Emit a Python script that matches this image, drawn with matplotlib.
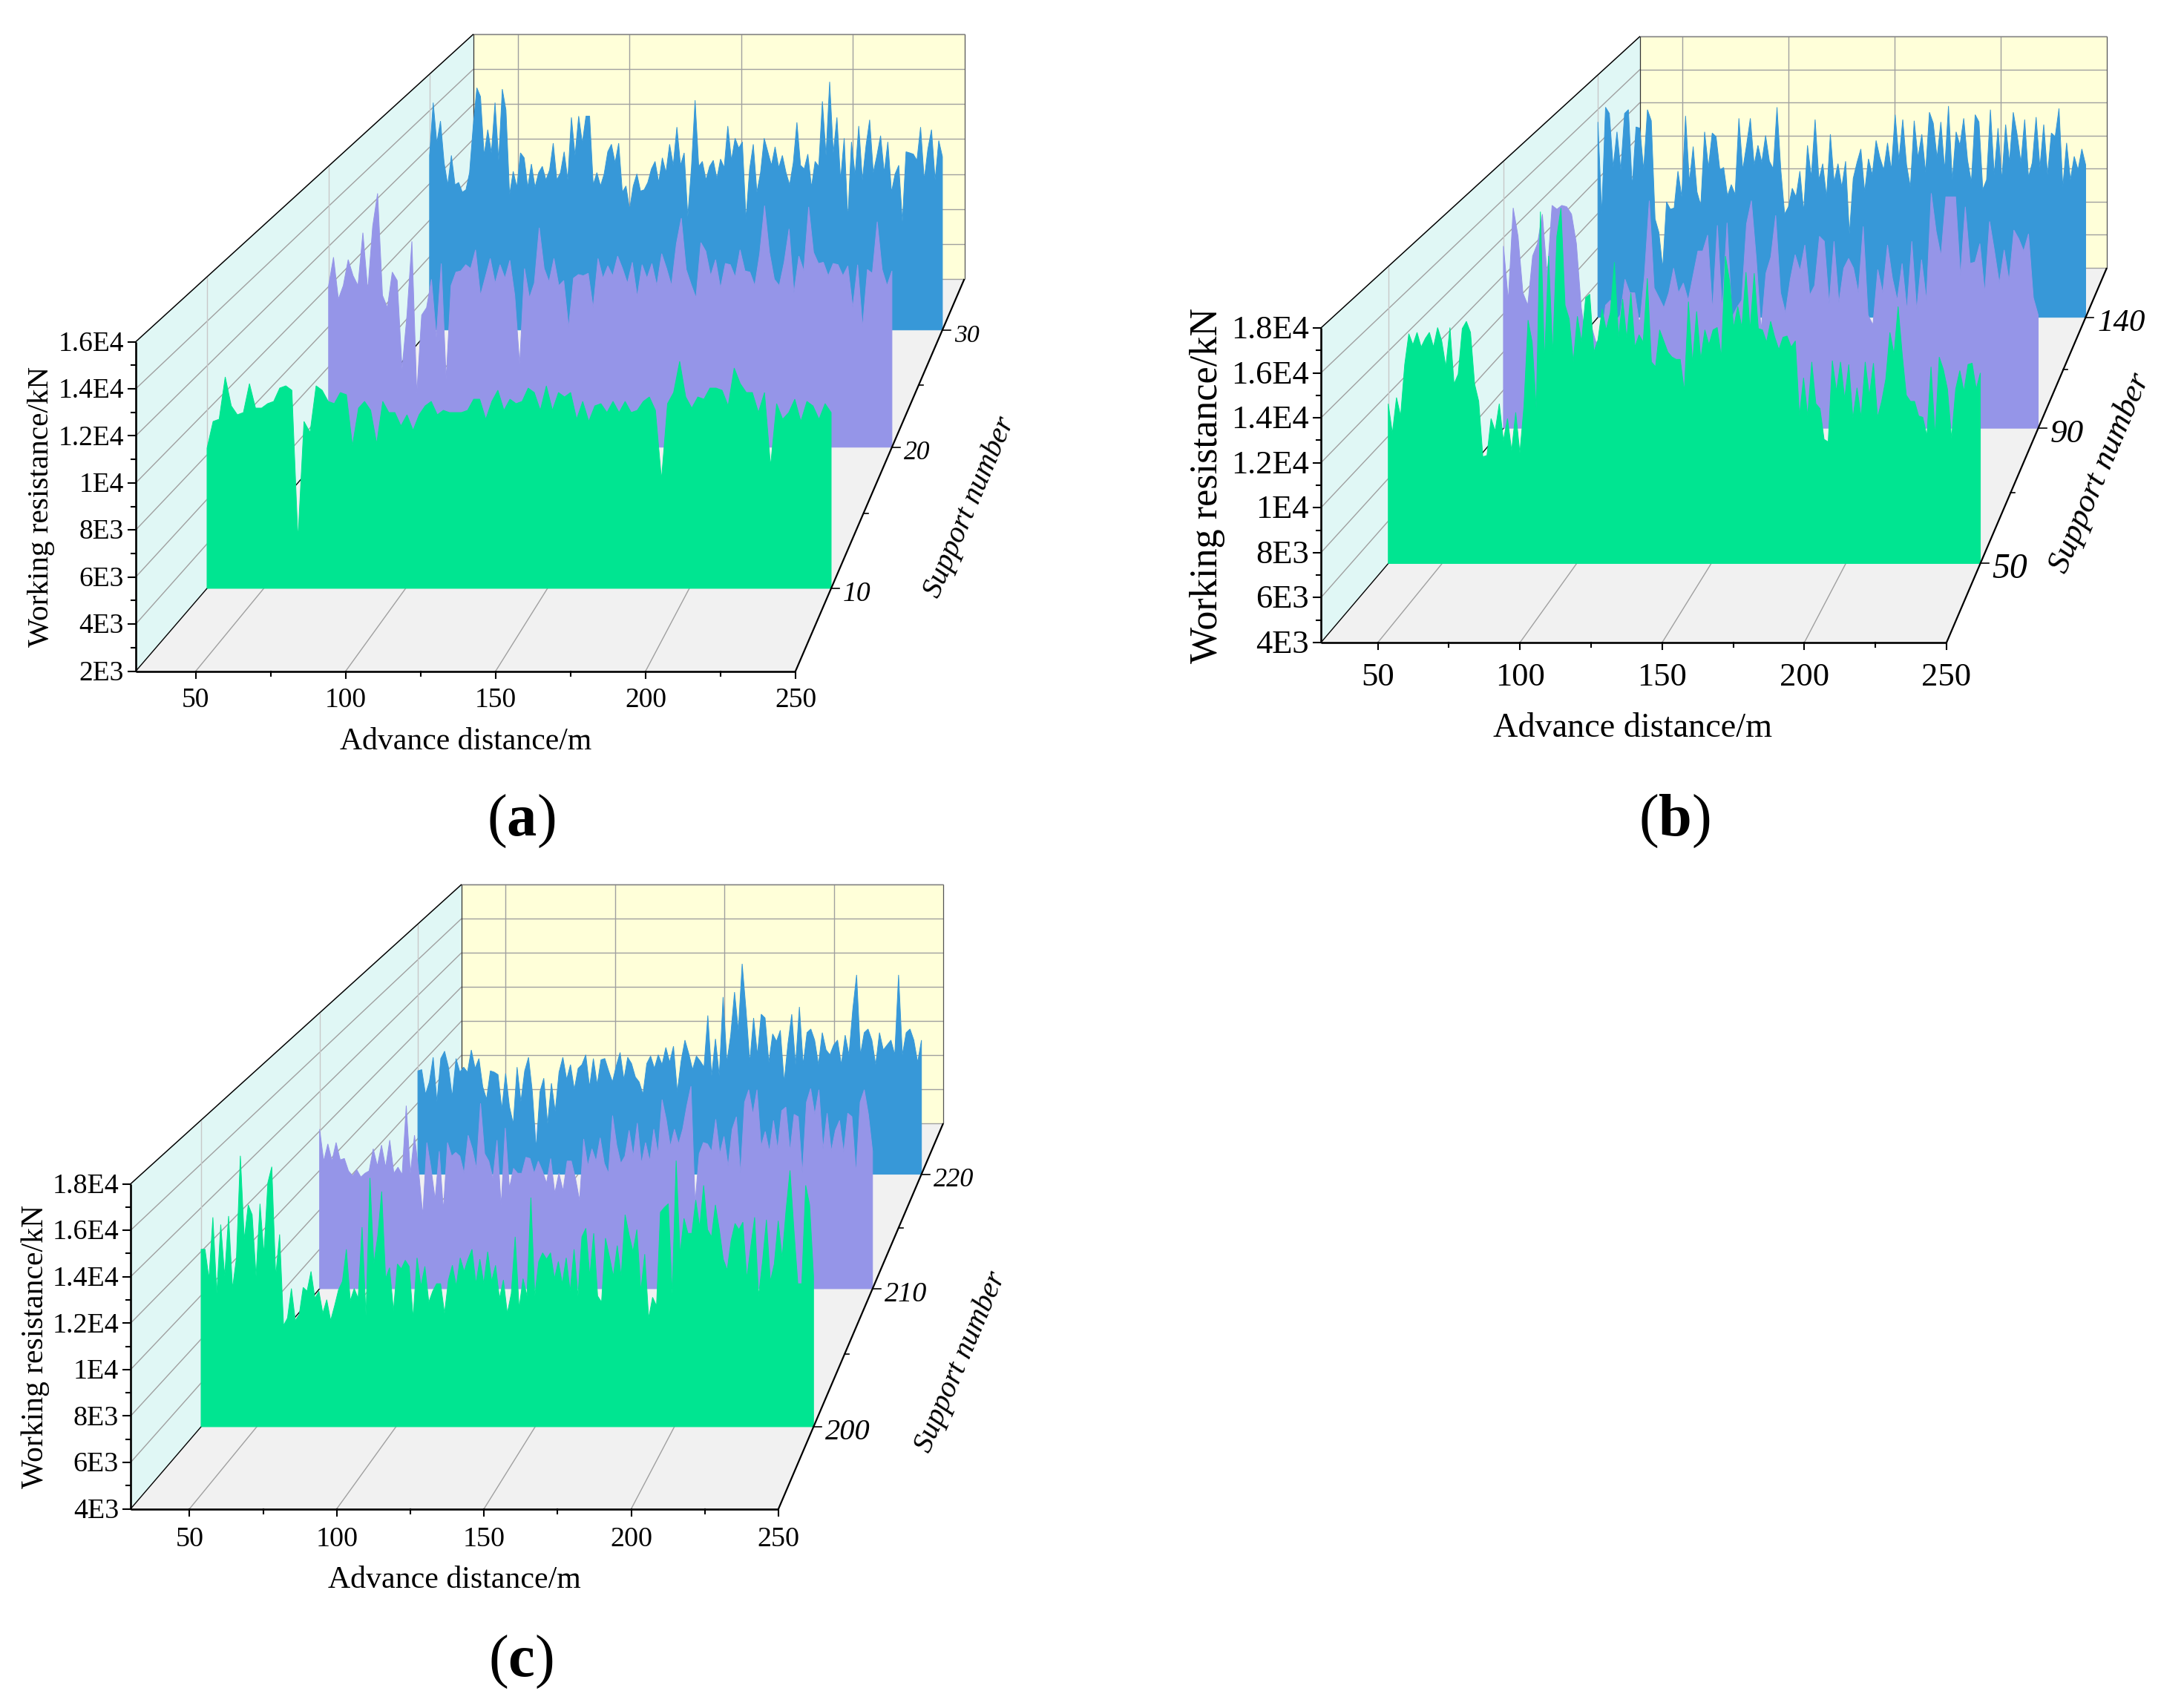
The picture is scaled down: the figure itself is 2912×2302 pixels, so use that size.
import numpy as np
import matplotlib
matplotlib.use('Agg')
import matplotlib.pyplot as plt

plt.rcParams['font.family'] = ['Liberation Serif', 'DejaVu Serif']
plt.rcParams['mathtext.fontset'] = 'custom'
plt.rcParams['mathtext.rm'] = 'Liberation Serif'
plt.rcParams['mathtext.bf'] = 'Liberation Serif:bold'

# working resistance in kN, read along each support from x=30 to x=250
a_green = [8300,9500,9600,11500,10200,9800,9900,11200,10100,10100,10300,10400,11000,11100,10900,4200,9500,9000,11100,10900,
           10400,10300,10800,10700,8400,10100,10400,10000,8500,10400,9900,9900,9300,9800,9100,9800,10200,10400,9800,10000,
           9900,9900,9900,10000,10500,10500,9600,10400,10900,10000,10500,10300,10400,11000,10800,10000,11100,10000,10800,10600,
           10800,9600,10400,9500,10200,10300,9900,10400,9900,10400,9900,10000,10400,10600,10000,6900,10300,10800,12200,10600,
           10100,10600,10500,11000,11000,10900,10200,11900,11200,10800,10800,9900,10800,7500,10300,9600,9900,10500,9500,10400,
           10200,9600,10300,9900]
a_purple = [10050,11460,9380,10050,11340,10540,10050,12680,9800,13000,14640,9560,8950,10720,10300,5900,8580,12250,4670,8580,
            8950,10360,7480,11150,5400,10050,10720,10780,11090,10900,11830,9560,10480,11400,10170,11090,10420,11310,9560,6140,
            10900,9440,10170,12930,10900,10240,11400,10050,10300,7970,10420,10600,
            10540,10660,8950,11400,10420,11030,10540,11520,10900,10170,11210,9500,11090,10420,11150,10050,11640,10900,10050,12130,
            13410,10850,10110,9440,12190,11760,10540,11340,9930,11150,11090,10480,11830,10780,10720,10050,11640,14030,11700,10360,
            10050,11210,12870,9680,11520,10780,13970,11700,11150,11210,10540,11150,11090,10540,11030,8950,11090,7970,10850,10660,
            13230,10850,10050,10780]
a_blue = [11550,14440,12220,13430,11150,9940,11550,9940,10070,9540,9670,10610,13160,15250,14770,11550,12960,11690,14440,11280,
          15180,14040,9400,10680,9810,11690,11420,9810,11080,9810,10610,10950,10210,10750,12220,10210,10610,11750,10210,13630,
          11550,13700,12220,13700,13700,9940,10610,9880,10540,11750,12160,11150,12220,9540,9880,8600,9880,10540,9600,9670,
          10070,10810,11220,10070,11420,10610,12160,11010,13100,11010,11690,8200,10880,14570,10950,11220,10210,10950,11280,10280,
          11350,10880,13160,11280,12490,11950,12290,8060,10810,12160,9540,10610,12490,11750,11010,12020,10880,11550,10610,9940,
          11150,13360,11010,10810,11620,9810,11220,10950,14510,11550,15580,11690,13630,10210,12490,8060,12290,10480,13160,10210,
          12090,13500,10610,11550,12630,10610,12290,9540,10540,11010,7930,11750,11690,11620,11280,13100,10210,11890,12960,10210,
          12360,11480]

b_green = [11530,10140,11820,10950,13380,14830,14310,14890,14200,14600,14890,14200,15120,14490,13270,15120,12460,12920,15070,15410,
           14890,12460,11640,9030,9090,10830,10250,11530,9790,10830,9320,11120,9210,11410,15470,14430,11300,20580,13500,18490,
           13850,19420,20750,16170,15530,13500,15650,14430,16520,16690,13960,14540,15990,15010,15820,18200,14660,16460,14600,16750,
           14200,14780,14430,17440,13500,13270,15010,14490,13960,13730,13620,13620,12110,16340,13440,15880,13620,15010,14310,15010,
           15120,13730,18490,17330,15120,16110,15120,17730,15010,
           17680,15070,15010,14430,15410,14660,14080,14660,14720,14200,14490,10950,12750,10950,13500,11530,11300,9850,9730,13560,
           12110,13500,11760,13380,10830,12280,10890,13500,11880,13440,10890,11640,12690,14890,13850,16110,13850,11930,11640,11640,
           10950,10890,10020,13270,10020,13730,13150,12220,9900,12220,13090,12110,13380,13440,12220,12980]
b_purple = [13550,10710,15550,14060,11100,10450,13030,13680,15220,12000,15680,15480,15680,15610,15220,13680,10320,8520,9420,8520,
            8520,10450,10710,9550,9930,11810,11100,11100,9420,12000,15930,11350,10840,10320,11100,12390,11100,11610,10710,12000,
            13290,13290,14130,10190,14640,10190,14770,9810,10320,10710,14710,15930,12900,9160,
            12130,12970,15160,11100,10060,11810,13100,12260,13610,10970,11480,14060,13800,10520,13800,10580,12390,12900,12390,11100,
            14580,9930,9420,12320,11100,13610,11870,10710,12640,10190,13800,10190,12840,10710,16320,14320,13030,16130,16130,16130,
            12000,15610,12640,12710,13680,11100,14840,13290,11610,13350,11740,14390,13930,13290,14190,10840,9930]
b_blue = [15280,9960,16130,15770,12650,14710,12510,15770,15990,11520,14990,14920,12510,15990,15350,9680,8900,6840,10670,10240,
          10310,12440,10950,15630,11800,13860,11240,10460,14710,12650,14640,14430,12510,12650,11020,11660,11090,15490,12510,13930,
          15490,12800,13930,12940,14500,13010,12580,16130,12510,9960,10380,11450,10950,12440,10100,13930,12090,15420,11940,12870,
          10950,14570,11800,12870,11520,13010,8820,12020,12940,13720,11240,13150,12230,14210,13220,12510,14070,12510,15700,13080,
          15420,12800,11520,15350,13220,14570,12370,15840,15210,13220,15280,12510,16200,11940,14710,13930,15490,13080,11800,15700,
          15280,11380,11940,15990,12230,14920,11940,15130,12940,15840,14570,12940,15420,12090,12940,15560,12650,15130,12230,14640,
          14430,16060,11520,14070,11940,13290,12510,13720,12800]

c_green = [12100,12100,10760,13560,10080,13230,10870,13620,10310,11710,16370,12550,14130,13680,10870,14180,11880,15140,15870,10870,
           12780,8620,8960,10310,8850,9130,10360,10190,11090,9860,10190,9180,9800,8850,9520,10250,10640,12100,9750,10310,
           9860,13110,9070,15360,11430,12720,14740,10760,11260,9300,11430,11210,11600,11320,8960,11710,10420,11320,9690,10190,
           10530,10530,9180,10700,11370,10420,11710,11090,11650,12100,10530,11650,10530,11990,10640,11370,9860,10700,9180,10080,
           12670,9410,10760,9970,14460,9970,11540,11940,11650,11940,10760,11540,10530,11710,10190,12100,
           9970,12670,13060,10870,12830,9970,9690,12610,11770,10870,12270,10870,13680,12780,11990,13000,10190,11880,8960,9910,
           9520,13790,14010,14180,10080,16150,11880,13510,12830,12830,14350,13110,15020,13000,12670,14130,13000,11650,11150,12500,
           13280,13000,13340,10760,12220,13560,9970,11540,13450,10640,11430,13400,11710,13900,15700,13000,10530,10530,15020,14130,
           10870]
c_purple = [12100,10480,11350,10480,11420,10540,10610,9980,9730,10040,9670,9860,9980,11100,10230,11290,10170,11540,9860,10170,
            9790,13290,9860,11790,9980,7740,11420,10110,8550,10980,7990,11420,10730,10920,10730,9860,11790,11100,10110,13410,
            10850,10480,9610,11540,8240,12160,9110,10110,9860,9860,10670,10610,9860,10480,9980,9360,10610,8860,9860,
            8980,10480,10480,9610,8490,11600,10230,11100,10480,11660,10360,9860,12790,11290,10360,10730,12040,10730,12410,10360,
            11420,10480,12100,10850,13600,12600,11230,12100,11350,12100,13290,14280,8360,10850,11420,11350,10980,12600,10850,11730,
            10230,12100,12730,9860,13470,14100,12850,14100,11230,11980,10980,12540,11100,13040,13220,10980,12850,12730,9860,13470,
            14160,12850,14100,11100,12910,10980,12040,12540,10920,12910,12730,9860,13470,14100,12850,10980]
c_blue = [9780,9850,8470,9160,10540,8060,10470,10880,9990,8340,10470,9710,9990,9710,10950,9920,10470,8890,8200,9780,
          9710,9570,7650,9640,7780,6820,9990,8060,9780,10540,8610,5440,8610,9370,6820,9090,7510,9710,10540,9300,
          10130,8750,9920,10130,10680,8890,10470,9020,10400,10470,9780,9160,10060,10810,9300,10540,10190,9440,9160,8470,
          10190,10610,9920,10680,10130,11090,10260,11160,8610,10330,11500,10750,9850,10610,10330,9990,12880,9510,11570,9510,
          13910,10260,11780,14190,12050,15770,13220,10260,12740,10680,12950,12740,10260,11850,11430,12050,9160,11300,12950,10130,
          13360,10130,11920,12120,11500,10130,11920,10950,10680,11230,11500,10130,11780,10680,13220,15150,10680,11920,12120,11500,
          10130,11920,10950,11230,11500,10680,15150,10680,11920,12120,11500,10260,11500]

# support numbers on the depth axis and where they sit between front (0) and back (1)
a_supports = [10, 15, 20, 25, 30]
a_depth = [0.211, 0.403, 0.571, 0.729, 0.870]
b_supports = [50, 70, 90, 115, 140]
b_depth = [0.211, 0.400, 0.572, 0.728, 0.868]
c_supports = [200, 205, 210, 215, 220]
c_depth = [0.213, 0.402, 0.571, 0.729, 0.868]

a_z_labels = ['2E3', '4E3', '6E3', '8E3', '1E4', '1.2E4', '1.4E4', '1.6E4']
b_z_labels = ['4E3', '6E3', '8E3', '1E4', '1.2E4', '1.4E4', '1.6E4', '1.8E4']
c_z_labels = ['4E3', '6E3', '8E3', '1E4', '1.2E4', '1.4E4', '1.6E4', '1.8E4']
x_ticks = [50, 100, 150, 200, 250]
x_minor = [75, 125, 175, 225]

GREEN = '#00E591'
PURPLE = '#9595E8'
BLUE = '#3798D8'

fig = plt.figure(figsize=(29.12, 23.02), dpi=100)
ax = fig.add_axes([0, 0, 1, 1])
ax.set_xlim(0, 2912)
ax.set_ylim(2302, 0)
ax.axis('off')


def draw_panel(g, z_min, z_labels, supports, depth, series, fs):
    z_max = z_min + 2000 * (len(z_labels) - 1)

    # perspective box: everything shrinks linearly towards the back
    def proj(x, t, z):
        x = np.asarray(x, dtype=float)
        t = np.asarray(t, dtype=float)
        z = np.asarray(z, dtype=float)
        left = g['ox'] + (g['bx'] - g['ox']) * t
        right = g['rx'] + (g['brx'] - g['rx']) * t
        base = g['oy'] + (g['by'] - g['oy']) * t
        height = g['h'] + (g['bh'] - g['h']) * t
        return left + (x - 30) / 220 * (right - left), base - (z - z_min) / (z_max - z_min) * height

    def line(x, t, z, **kw):
        px, py = proj(x, t, z)
        ax.plot(px, py, solid_capstyle='butt', **kw)

    def face(x, t, z, color):
        px, py = proj(x, t, z)
        ax.fill(px, py, color=color, lw=0)

    face([30, 30, 30, 30], [0, 1, 1, 0], [z_min, z_min, z_max, z_max], '#E0F7F5')
    face([30, 250, 250, 30], [1, 1, 1, 1], [z_min, z_min, z_max, z_max], '#FFFFD9')
    face([30, 250, 250, 30], [0, 0, 1, 1], [z_min, z_min, z_min, z_min], '#F1F1F1')

    grid = dict(color='#A0A0A0', lw=1.0)
    z_ticks = np.arange(z_min, z_max + 1, 2000)
    for z in z_ticks[1:]:
        line([30, 30], [0, 1], [z, z], **grid)
        line([30, 250], [1, 1], [z, z], **grid)
    for t in depth[::2]:
        line([30, 30], [t, t], [z_min, z_max], color='#C8C8C8', lw=1.0)
    for x in x_ticks[:-1]:
        line([x, x], [1, 1], [z_min, z_max], **grid)
        line([x, x], [0, 1], [z_min, z_min], **grid)
    line([250, 250], [1, 1], [z_min, z_max], color='#555555', lw=0.9)
    line([30, 250], [1, 1], [z_min, z_min], color='#A0A0A0', lw=1.0)
    line([30, 250], [1, 1], [z_max, z_max], color='#808080', lw=1.0)
    line([30, 30], [1, 1], [z_min, z_max], color='#333333', lw=0.9)
    line([30, 30], [0, 1], [z_max, z_max], color='black', lw=1.0)
    line([30, 30], [0, 1], [z_min, z_min], color='black', lw=1.0)

    # back to front
    for values, sup, color in series:
        t = np.interp(sup, supports, depth)
        x = np.linspace(30, 250, len(values))
        px = np.r_[30, x, 250]
        pz = np.r_[z_min, values, z_min]
        sx, sy = proj(px, t, pz)
        ax.fill(sx, sy, facecolor=color, edgecolor=color, lw=0.7, zorder=3)

    # axes lines
    axis = dict(color='black', lw=1.9, zorder=4)
    line([30, 30], [0, 0], [z_min, z_max], **axis)
    line([30, 250], [0, 0], [z_min, z_min], **axis)
    line([250, 250], [0, 1], [z_min, z_min], color='black', lw=1.6, zorder=4)

    for z, lab in zip(z_ticks, z_labels):
        px, py = proj(30, 0, z)
        ax.plot([px - 10, px], [py, py], color='black', lw=1.5)
        ax.text(px - 16, py + 3, lab, ha='right', va='center', fontsize=fs['tick'])
    for z in z_ticks[:-1] + 1000:
        px, py = proj(30, 0, z)
        ax.plot([px - 6, px], [py, py], color='black', lw=1.5)
    for x in x_ticks:
        px, py = proj(x, 0, z_min)
        ax.plot([px, px], [py, py + 9], color='black', lw=1.5)
        ax.text(px, py + g['xtick_dy'], str(x), ha='center', va='center', fontsize=fs['tick'])
    for x in x_minor:
        px, py = proj(x, 0, z_min)
        ax.plot([px, px], [py, py + 6], color='black', lw=1.5)
    for i, (sup, t) in enumerate(zip(supports, depth)):
        px, py = proj(250, t, z_min)
        if i % 2 == 0:
            ax.plot([px, px + 11], [py, py], color='black', lw=1.2, zorder=4)
            # labels further back are drawn smaller in the original
            ax.text(px + 16, py + 8, str(sup), ha='left', va='center',
                    fontsize=fs['sup'] * (1 - 0.15 * t), style='italic')
        else:
            ax.plot([px, px + 6], [py, py], color='black', lw=1.2, zorder=4)

    ax.text(g['xlab'][0], g['xlab'][1], 'Advance distance/m', ha='center', va='center', fontsize=fs['xlab'])
    ax.text(g['zlab'][0], g['zlab'][1], 'Working resistance/kN', ha='center', va='center',
            rotation=90, fontsize=fs['zlab'])
    ax.text(g['slab'][0], g['slab'][1], 'Support number', ha='center', va='center',
            rotation=67, rotation_mode='anchor', fontsize=fs['slab'], style='italic')
    ax.text(g['cap'][0], g['cap'][1], '($\\mathbf{' + g['letter'] + '}$)', ha='center', va='center', fontsize=58)


draw_panel(dict(ox=183, oy=904.5, rx=1072, bx=638, brx=1299.5, by=376, h=444, bh=330, xtick_dy=39,
                xlab=(628, 1000), zlab=(56, 683), slab=(1307, 684), cap=(702, 1107), letter='a'),
           2000, a_z_labels, a_supports, a_depth,
           [(a_blue, 30, BLUE), (a_purple, 20, PURPLE), (a_green, 10, GREEN)],
           dict(tick=27, xlab=30, zlab=29.7, slab=29, sup=28))
draw_panel(dict(ox=1780, oy=866, rx=2623, bx=2210, brx=2839, by=361, h=424, bh=312, xtick_dy=47,
                xlab=(2200, 982), zlab=(1627, 654), slab=(2830, 637), cap=(2256, 1107), letter='b'),
           4000, b_z_labels, b_supports, b_depth,
           [(b_blue, 140, BLUE), (b_purple, 90, PURPLE), (b_green, 50, GREEN)],
           dict(tick=32, xlab=33.3, zlab=37.6, slab=32, sup=35.5))
draw_panel(dict(ox=176, oy=2033.6, rx=1049, bx=622, brx=1271, by=1514, h=438, bh=322, xtick_dy=41,
                xlab=(612, 2130), zlab=(48, 1815), slab=(1295, 1836), cap=(702, 2240), letter='c'),
           4000, c_z_labels, c_supports, c_depth,
           [(c_blue, 220, BLUE), (c_purple, 210, PURPLE), (c_green, 200, GREEN)],
           dict(tick=27.4, xlab=30.2, zlab=30, slab=29, sup=30))

fig.savefig('out.png', dpi=100)
